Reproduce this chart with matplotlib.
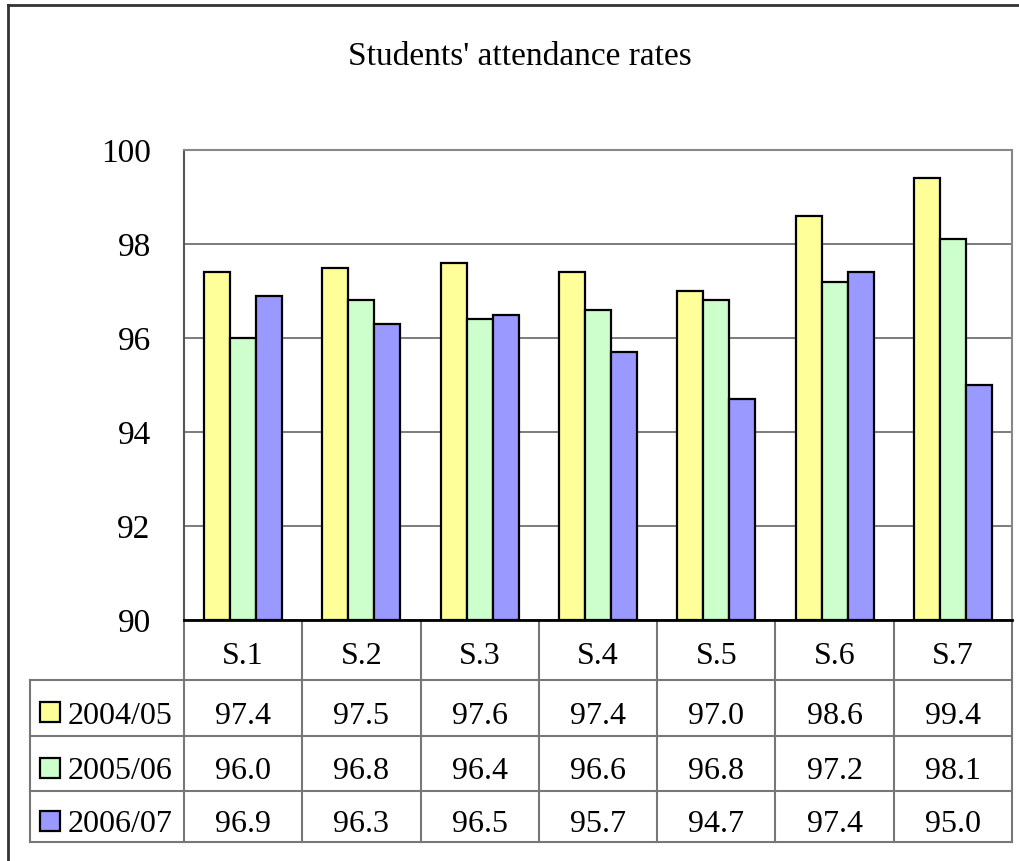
import numpy as np
import matplotlib
matplotlib.use('Agg')
import matplotlib.pyplot as plt
from matplotlib.lines import Line2D
from matplotlib.patches import Rectangle

# Data
classes = ['S.1', 'S.2', 'S.3', 'S.4', 'S.5', 'S.6', 'S.7']
years = ['2004/05', '2005/06', '2006/07']
rate_0405 = [97.4, 97.5, 97.6, 97.4, 97.0, 98.6, 99.4]
rate_0506 = [96.0, 96.8, 96.4, 96.6, 96.8, 97.2, 98.1]
rate_0607 = [96.9, 96.3, 96.5, 95.7, 94.7, 97.4, 95.0]
colours = ['#FFFF99', '#CCFFCC', '#9999FF']

series = [rate_0405, rate_0506, rate_0607]

plt.rcParams['font.family'] = ['Liberation Serif', 'DejaVu Serif']

W, H = 1019, 861
fig = plt.figure(figsize=(W / 100, H / 100), dpi=100)

def fx(px):
    return px / W

def fy(py):
    return 1 - py / H

# plot area in pixels
left, right, top, bottom = 184, 1012, 150, 620
ax = fig.add_axes([fx(left), fy(bottom), fx(right - left), (bottom - top) / H])

n = len(classes)
bw = 0.22
x = np.arange(n) + 0.5
for i, vals in enumerate(series):
    ax.bar(x + (i - 1) * bw, np.array(vals) - 90, bottom=90, width=bw,
           color=colours[i], edgecolor='black', linewidth=1.6, zorder=3)

ax.set_xlim(0, n)
ax.set_ylim(90, 100)
ax.set_yticks([90, 92, 94, 96, 98, 100])
ax.set_yticklabels(['90', '92', '94', '96', '98', '100'], fontsize=24)
ax.tick_params(axis='y', length=0, pad=24)
for lab in ax.get_yticklabels():
    lab.set_va('center_baseline')
ax.set_xticks([])
ax.grid(axis='y', color='#666666', linewidth=1.2, zorder=0)
for s in ['top', 'right']:
    ax.spines[s].set_color('#888888')
    ax.spines[s].set_linewidth(1.5)
ax.spines['left'].set_color('#555555')
ax.spines['left'].set_linewidth(1.5)
ax.spines['bottom'].set_color('black')
ax.spines['bottom'].set_linewidth(2)

fig.text(0.51, fy(57), "Students' attendance rates", ha='center', va='center',
         fontsize=24)

# data table below the plot
unit = (right - left) / n

def dx(px):
    return (px - left) / unit

def ay(py):
    return (bottom - py) / (bottom - top)

tr = ax.get_xaxis_transform()
row_edges = [620, 680, 736, 791, 842]
tab_left = 30
line_kw = dict(color='#777777', linewidth=1.5, transform=tr, clip_on=False)

# vertical lines at category borders
for k in range(n + 1):
    ax.add_line(Line2D([k, k], [ay(row_edges[0]), ay(row_edges[-1])], **line_kw))
# horizontal lines
for r in row_edges[1:]:
    ax.add_line(Line2D([dx(tab_left), n], [ay(r), ay(r)], **line_kw))
ax.add_line(Line2D([dx(tab_left), dx(tab_left)], [ay(row_edges[1]), ay(row_edges[-1])], **line_kw))

# header labels
for k, c in enumerate(classes):
    ax.text(x[k], ay(656), c, ha='center', va='center', fontsize=23,
            transform=tr, clip_on=False)

# rows
for i, (yr, vals) in enumerate(zip(years, series)):
    yc = (row_edges[i + 1] + row_edges[i + 2]) / 2 + 8
    sq = 20
    ax.add_patch(Rectangle((dx(40), ay(yc - 4 + sq / 2)), (sq) / unit,
                           (sq) / (bottom - top), facecolor=colours[i],
                           edgecolor='black', linewidth=1.6, transform=tr,
                           clip_on=False))
    ax.text(dx(68), ay(yc), yr, ha='left', va='center', fontsize=23,
            transform=tr, clip_on=False)
    for k, v in enumerate(vals):
        ax.text(x[k], ay(yc), '%.1f' % v, ha='center', va='center',
                fontsize=23, transform=tr, clip_on=False)

# outer chart border
fig.add_artist(Line2D([fx(8), fx(8)], [fy(5), 0], color='#333333', linewidth=2))
fig.add_artist(Line2D([fx(8), 1], [fy(5), fy(5)], color='#333333', linewidth=2))

fig.savefig('out.png', dpi=100)
